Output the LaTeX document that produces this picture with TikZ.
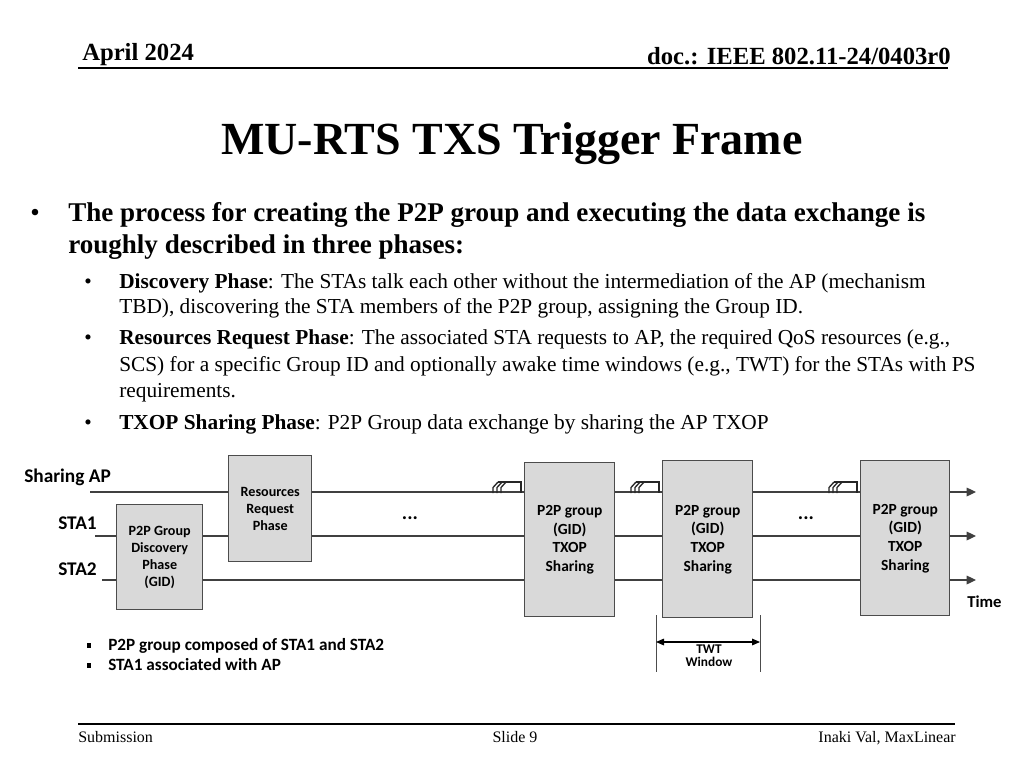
\documentclass[tikz,border=0pt]{standalone}
\usepackage{fontspec}
\setmainfont{Liberation Serif}
\newfontfamily\dfont{Carlito}
\usetikzlibrary{arrows.meta}
\newcommand\txsicon[1]{%
  \foreach \i in {0,1,2}{\draw[icon] ({#1-31+4*\i},493) -- ({#1-31+4*\i},487.5) -- ({#1-26+4*\i},482);}
  \draw[icon] ({#1-26},482) -- ({#1-3},482) -- ({#1-3},493);
}
\begin{document}
\begin{tikzpicture}[x=0.75pt,y=-0.75pt,
  phase/.style={draw=black!70, fill=black!15, line width=1.1pt, inner sep=0pt, anchor=north west},
  boxtxt/.style={align=center, font=\dfont\bfseries\fontsize{11.6}{14}\selectfont, inner sep=0pt},
  boxtxtsm/.style={align=center, font=\dfont\bfseries\fontsize{10.6}{12.8}\selectfont, inner sep=0pt},
  tl/.style={draw=black!75, line width=0.9pt},
  icon/.style={draw=black!85, line width=1pt},
  lbl/.style={font=\dfont\bfseries\fontsize{14.5}{17}\selectfont, inner sep=0pt},
  body/.style={inner sep=0pt, anchor=base west},
  tip/.style={-{Triangle[length=7pt,width=6.5pt]}}
]
\useasboundingbox (0,0) rectangle (1024,768);
\fill[white] (0,0) rectangle (1024,768);
% header
\node[inner sep=0pt, anchor=base west, font=\bfseries\fontsize{18.5}{20}\selectfont] (date) at (82,60) {April 2024};
\node[inner sep=0pt, anchor=base east, font=\bfseries\fontsize{18.5}{20}\selectfont] (doc) at (951,64) {doc.: IEEE 802.11-24/0403r0};
\draw[line width=1.4pt] (78,68) coordinate (hl) -- (948,68) coordinate (hr);
% title
\node[inner sep=0pt, anchor=base, font=\bfseries\fontsize{34.5}{38}\selectfont] (title) at (512,154) {MU-RTS TXS Trigger Frame};
% body
\begin{scope}[font=\fontsize{20.3}{24}\selectfont]
\node[body] (b0) at (30,221) {•};
\node[body] (l1) at (68,221) {\textbf{The process for creating the P2P group and executing the data exchange is}};
\node[body] (l2) at (68,253) {\textbf{roughly described in three phases:}};
\end{scope}
\begin{scope}[font=\fontsize{16}{20}\selectfont]
\node[body] (s1b) at (84,288) {•};
\node[body] (s1a) at (119,288) {\textbf{Discovery Phase}: The STAs talk each other without the intermediation of the AP (mechanism};
\node[body] (s1c) at (119,313) {TBD), discovering the STA members of the P2P group, assigning the Group ID.};
\node[body] (s2b) at (84,344) {•};
\node[body] (s2a) at (119,344) {\textbf{Resources Request Phase}: The associated STA requests to AP, the required QoS resources (e.g.,};
\node[body] (s2c) at (119,371) {SCS) for a specific Group ID and optionally awake time windows (e.g., TWT) for the STAs with PS};
\node[body] (s2d) at (119,397) {requirements.};
\node[body] (s3b) at (84,429) {•};
\node[body] (s3a) at (119,429) {\textbf{TXOP Sharing Phase}: P2P Group data exchange by sharing the AP TXOP};
\end{scope}
% timelines
\node[lbl, anchor=base west] (ap) at (24,482) {Sharing AP};
\node[lbl, anchor=base west] (sta1) at (58,529) {STA1};
\node[lbl, anchor=base west] (sta2) at (58,575) {STA2};
\coordinate (apS) at (90,492);  \coordinate (apE) at (976,492);
\coordinate (s1S) at (95,536);  \coordinate (s1E) at (976,536);
\coordinate (s2S) at (102,580); \coordinate (s2E) at (976,580);
\draw[tl,tip] (apS) -- (apE);
\draw[tl,tip] (s1S) -- (s1E);
\draw[tl,tip] (s2S) -- (s2E);
\node[lbl, anchor=base west, font=\dfont\bfseries\fontsize{12.5}{14}\selectfont] (time) at (967,607) {Time};
% boxes
\node[phase, minimum width=64.5pt, minimum height=78.75pt] (bx1) at (116,504) {};
\node[boxtxtsm] at (bx1.center) {P2P Group\\Discovery\\Phase\\(GID)};
\node[phase, minimum width=62.25pt, minimum height=79.5pt] (bx2) at (228,455) {};
\node[boxtxtsm] at (bx2.center) {Resources\\Request\\Phase};
\node[phase, minimum width=67.5pt, minimum height=115.5pt] (bx3) at (524,462) {};
\node[boxtxt] at (bx3.center) {P2P group\\(GID)\\TXOP\\Sharing};
\node[phase, minimum width=67.5pt, minimum height=117.75pt] (bx4) at (662,460) {};
\node[boxtxt] at (bx4.center) {P2P group\\(GID)\\TXOP\\Sharing};
\node[phase, minimum width=66.75pt, minimum height=116.25pt] (bx5) at (860,460) {};
\node[boxtxt] at (bx5.center) {P2P group\\(GID)\\TXOP\\Sharing};
\txsicon{524}
\txsicon{662}
\txsicon{860}
\node[lbl, font=\dfont\bfseries\fontsize{15}{17}\selectfont] (dots1) at (410,518) {...};
\node[lbl, font=\dfont\bfseries\fontsize{15}{17}\selectfont] (dots2) at (806,518) {...};
% TWT window
\coordinate (tw1t) at (656,615); \coordinate (tw1b) at (656,672);
\coordinate (tw2t) at (760,615); \coordinate (tw2b) at (760,672);
\draw[black!70, line width=0.6pt] (tw1t) -- (tw1b);
\draw[black!70, line width=0.6pt] (tw2t) -- (tw2b);
\coordinate (twL) at (656,642); \coordinate (twR) at (760,642);
\draw[line width=0.8pt, {Triangle[length=6pt,width=5pt]}-{Triangle[length=6pt,width=5pt]}] (twL) -- (twR);
\node[font=\dfont\bfseries\fontsize{10}{9.75}\selectfont, align=center, inner sep=0pt, anchor=north] (twt) at (709,645) {TWT\\Window};
% bottom bullets
\fill (87,643) rectangle (91,648);
\fill (87,663) rectangle (91,668);
\node[body, font=\dfont\bfseries\fontsize{12.9}{14}\selectfont] (n1) at (108,650) {P2P group composed of STA1 and STA2};
\node[body, font=\dfont\bfseries\fontsize{12.9}{14}\selectfont] (n2) at (108,670) {STA1 associated with AP};
% footer
\draw[line width=1.4pt] (78,724) coordinate (fl) -- (955,724) coordinate (fr);
\node[inner sep=0pt, anchor=base west, font=\fontsize{12}{14}\selectfont] (sub) at (78,742) {Submission};
\node[inner sep=0pt, anchor=base, font=\fontsize{12}{14}\selectfont] (slide) at (515,742) {Slide 9};
\node[inner sep=0pt, anchor=base east, font=\fontsize{12}{14}\selectfont] (auth) at (956,742) {Inaki Val, MaxLinear};
\end{tikzpicture}
\end{document}
